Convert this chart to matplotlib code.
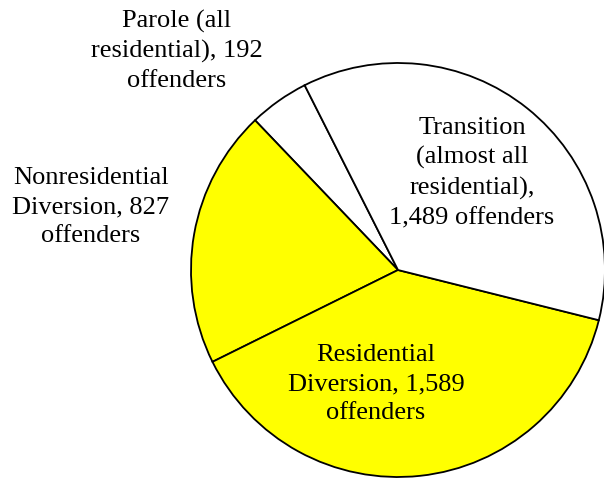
import matplotlib.pyplot as plt

categories = ["Parole (all\nresidential)", "Nonresidential\nDiversion", "Residential\nDiversion",
              "Transition\n(almost all\nresidential)"]
offenders = [192, 827, 1589, 1489]
colors = ["#FFFFFF", "#FFFF00", "#FFFF00", "#FFFFFF"]

# label layout: pixel x, pixel y from top, and how the count line wraps
label_pos = [(177, 51), (91, 207), (376, 384), (472, 173)]
count_sep = [", ", ", ", ", ", ",\n"]

W, H = 604, 479
fig = plt.figure(figsize=(W / 100, H / 100), dpi=100)
ax = fig.add_axes([0, 0, 1, 1])

ax.pie(offenders, colors=colors, startangle=116.8, counterclock=True,
       center=(398, H - 270), radius=207,
       wedgeprops={"edgecolor": "black", "linewidth": 1.3})

for name, n, sep, (x, y) in zip(categories, offenders, count_sep, label_pos):
    if sep == ", ":
        text = name + ", " + "{:,}".format(n) + "\noffenders"
    else:
        text = name + ",\n" + "{:,}".format(n) + " offenders"
    ax.text(x, H - y, text, ha="center", va="center", multialignment="center",
            fontsize=19, family="Liberation Serif", linespacing=1.42)

ax.set_xlim(0, W)
ax.set_ylim(0, H)
ax.set_aspect("equal")
ax.axis("off")
fig.savefig("out.png", dpi=100)
